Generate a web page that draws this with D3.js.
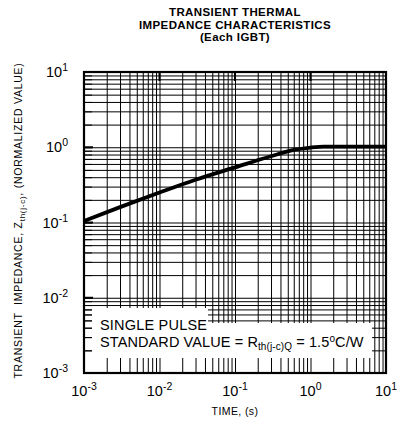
<!DOCTYPE html>
<html>
<head>
<meta charset="utf-8">
<script src="https://cdn.jsdelivr.net/npm/d3@7"></script>
<style>
  body { margin: 0; background: #fff; }
  svg { font-family: "Liberation Sans", Arial, sans-serif; }
  .grid line { stroke: #000; stroke-width: 1; }
  .grid path { display: none; }
  .ticks path { display: none; }
  .ticks line { stroke: #000; stroke-width: 1; }
</style>
</head>
<body>
<svg id="chart" width="405" height="426"></svg>
<script>
//chart data
var titleLines = ['TRANSIENT THERMAL', 'IMPEDANCE CHARACTERISTICS', '(Each IGBT)'];
var timeMajor = [1e-3, 1e-2, 1e-1, 1, 10],
    timeExp = ['-3', '-2', '-1', '0', '1'];
var zMajor = [1e-3, 1e-2, 1e-1, 1, 10],
    zExp = ['-3', '-2', '-1', '0', '1'];
var curveTime = [0.001, 0.003, 0.01, 0.03, 0.1, 0.3, 0.6, 1.0, 1.5, 10],
    curveZth  = [0.105, 0.16, 0.25, 0.37, 0.54, 0.76, 0.92, 0.99, 1.02, 1.02];

var svg = d3.select('#chart');

//plot extent
var margin = {top: 72, right: 19, bottom: 53, left: 84},
    width = 405 - margin.left - margin.right,
    height = 426 - margin.top - margin.bottom;

//scales
var xScale = d3.scaleLog().domain([1e-3, 10]).range([0, width]),
    yScale = d3.scaleLog().domain([1e-3, 10]).range([height, 0]);

var canvas = svg.append('g')
    .attr('transform', 'translate(' + margin.left + ',' + margin.top + ')');

//gridlines
canvas.append('g')
    .attr('class', 'grid')
    .call(d3.axisLeft(yScale).ticks(10).tickSize(-width).tickFormat(''));
canvas.append('g')
    .attr('class', 'grid')
    .attr('transform', 'translate(0,' + height + ')')
    .call(d3.axisBottom(xScale).ticks(10).tickSize(height).tickFormat(''))
    .selectAll('line').attr('y2', -height);

//legend masks
canvas.append('rect')
    .attr('x', 8).attr('y', 236)
    .attr('width', 116).attr('height', 50)
    .attr('fill', '#fff');
canvas.append('rect')
    .attr('x', 8).attr('y', 251)
    .attr('width', 280).attr('height', 35)
    .attr('fill', '#fff');

//short ticks on left edge
canvas.append('g')
    .attr('class', 'ticks')
    .call(d3.axisLeft(yScale).ticks(10).tickSize(-8).tickFormat(''));

//major ticks thicker
canvas.selectAll('.majl').data(zMajor)
    .enter().append('line')
    .attr('x1', 0).attr('x2', 9)
    .attr('y1', d => yScale(d)).attr('y2', d => yScale(d))
    .attr('stroke', '#000').attr('stroke-width', 2);
canvas.selectAll('.majt').data(timeMajor)
    .enter().append('line')
    .attr('x1', d => xScale(d)).attr('x2', d => xScale(d))
    .attr('y1', 0).attr('y2', 9)
    .attr('stroke', '#000').attr('stroke-width', 2);

//frame
canvas.append('rect')
    .attr('width', width).attr('height', height)
    .attr('fill', 'none')
    .attr('stroke', '#000')
    .attr('stroke-width', 2.2);

//curve
var line = d3.line()
    .x((d, i) => xScale(curveTime[i]))
    .y(d => yScale(d))
    .curve(d3.curveMonotoneX);
canvas.append('path')
    .datum(curveZth)
    .attr('d', line)
    .attr('fill', 'none')
    .attr('stroke', '#000')
    .attr('stroke-width', 3.8);

//legend text
canvas.append('text')
    .attr('x', 16).attr('y', 258)
    .attr('font-size', 14.5)
    .attr('letter-spacing', 0.2)
    .text('SINGLE PULSE');
var std = canvas.append('text')
    .attr('x', 16).attr('y', 275)
    .attr('font-size', 14.5)
    .attr('letter-spacing', 0.1);
std.append('tspan').text('STANDARD VALUE = R');
std.append('tspan').attr('font-size', 10).attr('dy', 3).text('th(j-c)Q');
std.append('tspan').attr('dy', -3).text(' = 1.5');
std.append('tspan').attr('font-size', 10).attr('dy', -5).text('o');
std.append('tspan').attr('dy', 5).text('C/W');

//y tick labels
zMajor.forEach(function(v, i) {
    var t = canvas.append('text')
        .attr('x', -16).attr('y', yScale(v) + 5)
        .attr('text-anchor', 'end')
        .attr('font-size', 14.5);
    t.append('tspan').text('10');
    t.append('tspan').attr('font-size', 10.5).attr('dy', -6).text(zExp[i]);
});

//x tick labels
timeMajor.forEach(function(v, i) {
    var t = canvas.append('text')
        .attr('x', xScale(v)).attr('y', height + 23)
        .attr('text-anchor', 'middle')
        .attr('font-size', 14.5);
    t.append('tspan').text('10');
    t.append('tspan').attr('font-size', 10.5).attr('dy', -6).text(timeExp[i]);
});

//x axis label
canvas.append('text')
    .attr('x', width / 2).attr('y', height + 42)
    .attr('text-anchor', 'middle')
    .attr('font-size', 10.5)
    .attr('letter-spacing', 0.4)
    .text('TIME, (s)');

//y axis label
var yl = canvas.append('text')
    .attr('transform', 'translate(' + (-62) + ',' + (height / 2 - 2) + ') rotate(-90)')
    .attr('text-anchor', 'middle')
    .attr('font-size', 10.5)
    .attr('letter-spacing', 0.75);
yl.append('tspan').text('TRANSIENT\u00a0\u00a0IMPEDANCE, Z');
yl.append('tspan').attr('font-size', 8).attr('dy', 2.5).text('th(j-c)');
yl.append('tspan').attr('dy', -2.5).text(', (NORMALIZED VALUE)');

//title
svg.selectAll('.title').data(titleLines)
    .enter().append('text')
    .attr('x', margin.left + width / 2)
    .attr('y', (d, i) => 16 + i * 12.6)
    .attr('text-anchor', 'middle')
    .attr('font-size', 11.5)
    .attr('font-weight', 'bold')
    .attr('letter-spacing', 0.4)
    .text(d => d);
</script>
</body>
</html>
